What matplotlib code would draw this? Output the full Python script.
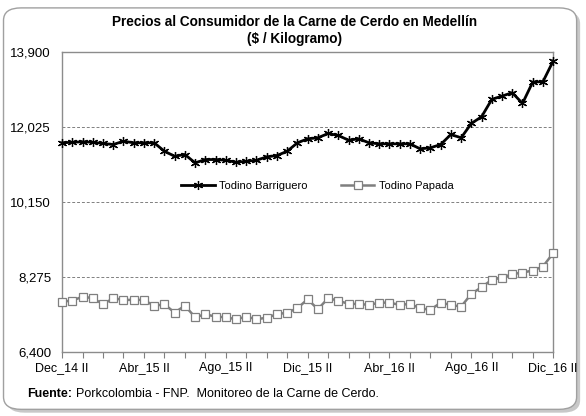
import matplotlib.pyplot as plt
from matplotlib.patches import FancyBboxPatch

# -----------------------------
# Data (semi-monthly, Dec_14 II .. Dic_16 II)
# -----------------------------
tick_labels = ["Dec_14 II", "Abr_15 II", "Ago_15 II", "Dic_15 II",
               "Abr_16 II", "Ago_16 II", "Dic_16 II"]

barriguero = [
    11625, 11640, 11650, 11640, 11608, 11583, 11665, 11625, 11625, 11625,
    11415, 11290, 11333, 11125, 11208, 11208, 11190, 11140, 11165, 11190,
    11275, 11308, 11415, 11625, 11725, 11750, 11858, 11808, 11690, 11725,
    11625, 11600, 11600, 11600, 11600, 11475, 11500, 11583, 11833, 11750,
    12108, 12275, 12708, 12790, 12875, 12608, 13140, 13150, 13665,
]

papada = [
    7665, 7690, 7790, 7750, 7600, 7750, 7708, 7708, 7708, 7558,
    7600, 7390, 7565, 7275, 7350, 7290, 7275, 7225, 7290, 7225,
    7265, 7350, 7390, 7500, 7725, 7475, 7750, 7690, 7608, 7608,
    7583, 7640, 7640, 7583, 7608, 7500, 7458, 7640, 7583, 7540,
    7858, 8025, 8208, 8265, 8350, 8390, 8440, 8540, 8875,
]

y_ticks = [6400, 8275, 10150, 12025, 13900]

plt.rcParams.update({
    "font.family": ["Liberation Sans", "DejaVu Sans"],
    "font.size": 8,
})

# -----------------------------
# Figure / frame
# -----------------------------
fig = plt.figure(figsize=(5.86, 4.16), dpi=100)
fig.patch.set_facecolor("white")

shadow = FancyBboxPatch((0.012, 0.008), 0.978, 0.965,
                        boxstyle="round,pad=0,rounding_size=0.03",
                        transform=fig.transFigure, facecolor="#c8c8c8",
                        edgecolor="none", zorder=0)
frame = FancyBboxPatch((0.006, 0.016), 0.978, 0.965,
                       boxstyle="round,pad=0,rounding_size=0.03",
                       transform=fig.transFigure, facecolor="white",
                       edgecolor="#a0a0a0", linewidth=1.0, zorder=1)
fig.patches.extend([shadow, frame])

ax = fig.add_axes([0.106, 0.153, 0.838, 0.723])
ax.set_zorder(2)

x = list(range(len(barriguero)))

ax.plot(x, barriguero, color="black", linewidth=2.0,
        marker=(6, 2, 0), markersize=6.5, markeredgewidth=0.9,
        markeredgecolor="black", label="Todino Barriguero", zorder=4,
        clip_on=False)
ax.plot(x, papada, color="#7f7f7f", linewidth=1.8,
        marker="s", markersize=5.5, markerfacecolor="white",
        markeredgecolor="#7f7f7f", markeredgewidth=0.9,
        label="Todino Papada", zorder=3, clip_on=False)

# -----------------------------
# Axes styling
# -----------------------------
ax.set_xlim(0, len(barriguero) - 1)
ax.set_ylim(y_ticks[0], y_ticks[-1])
ax.set_yticks(y_ticks)
ax.set_yticklabels([f"{v:,}" for v in y_ticks], fontsize=9.5)
ax.tick_params(axis="y", length=0, pad=8)

minor_pos = list(range(0, len(barriguero), 2))
ax.set_xticks(minor_pos)
labels = []
for p in minor_pos:
    labels.append(tick_labels[p // 8] if p % 8 == 0 else "")
ax.set_xticklabels(labels, fontsize=9)
ax.tick_params(axis="x", length=4, direction="out", color="#808080", pad=3)

for s in ax.spines.values():
    s.set_color("#8c8c8c")
    s.set_linewidth(1.0)

for v in y_ticks[1:-1]:
    ax.axhline(v, color="#808080", linestyle=(0, (3, 2)), linewidth=0.7, zorder=1)

ax.legend(loc="center", bbox_to_anchor=(0.52, 0.553), ncol=2, frameon=False,
          fontsize=8, handlelength=3.0, columnspacing=3.0, handletextpad=0.4)

# -----------------------------
# Title and source
# -----------------------------
fig.text(0.503, 0.948, "Precios al Consumidor de la Carne de Cerdo en Medellín",
         ha="center", va="center", fontsize=9.8, fontweight="bold")
fig.text(0.503, 0.907, "($ / Kilogramo)", ha="center", va="center",
         fontsize=9.8, fontweight="bold")

fig.text(0.046, 0.053, "Fuente:", ha="left", va="center", fontsize=9,
         fontweight="bold")
fig.text(0.129, 0.053, "Porkcolombia - FNP.  Monitoreo de la Carne de Cerdo.",
         ha="left", va="center", fontsize=9)

fig.savefig("out.png", dpi=100)
